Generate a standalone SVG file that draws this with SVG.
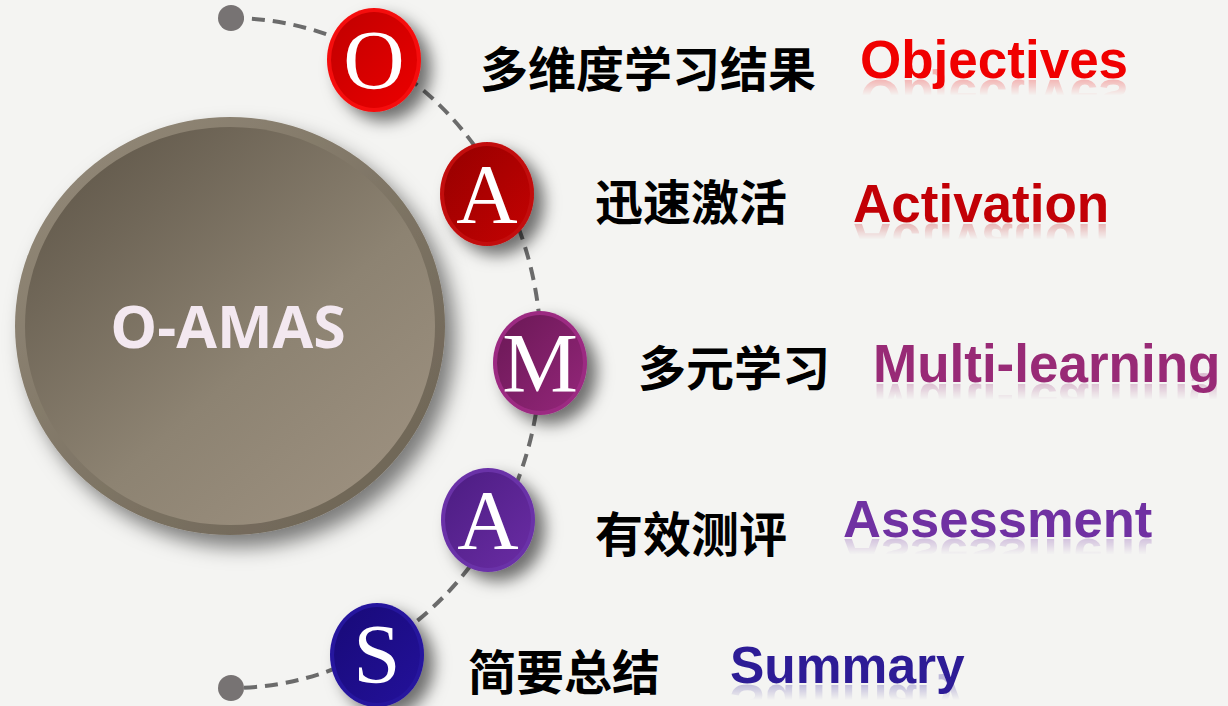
<svg xmlns="http://www.w3.org/2000/svg" xmlns:xlink="http://www.w3.org/1999/xlink" width="1228" height="706" viewBox="0 0 1228 706">
<defs>
<style>
.cn{font-family:"Noto Sans CJK SC","Noto Sans",sans-serif;font-weight:700;font-size:48px;fill:#000}
.en{font-family:"Liberation Sans",Arial,sans-serif;font-weight:700;font-size:53px}
.let{font-family:"Liberation Serif","Times New Roman",serif;font-size:85px;fill:#fff;text-anchor:middle}
.conn{fill:none;stroke:#6b6b6b;stroke-width:4;stroke-dasharray:13 8}
.dot{fill:#777373}
.refl{opacity:0.35}
</style>
<filter id="sh" x="-30%" y="-30%" width="170%" height="170%">
<feDropShadow dx="10" dy="9" stdDeviation="8" flood-color="#000" flood-opacity="0.55"/>
</filter>
<filter id="shBig" x="-20%" y="-20%" width="150%" height="150%">
<feDropShadow dx="10" dy="12" stdDeviation="10" flood-color="#000" flood-opacity="0.5"/>
</filter>
<linearGradient id="bigRim" x1="0" y1="0" x2="1" y2="1">
<stop offset="0" stop-color="#958b7a"/><stop offset="1" stop-color="#6a6152"/>
</linearGradient>
<linearGradient id="bigFace" x1="0.15" y1="0.1" x2="0.85" y2="0.9">
<stop offset="0" stop-color="#655c4e"/><stop offset="0.6" stop-color="#8d8372"/><stop offset="1" stop-color="#9b8f7e"/>
</linearGradient>
<linearGradient id="fO" x1="0" y1="0" x2="1" y2="1"><stop offset="0" stop-color="#c00000"/><stop offset="1" stop-color="#ec0000"/></linearGradient>
<linearGradient id="fA" x1="0" y1="0" x2="1" y2="1"><stop offset="0" stop-color="#960000"/><stop offset="1" stop-color="#c40202"/></linearGradient>
<linearGradient id="fM" x1="0" y1="0" x2="1" y2="1"><stop offset="0" stop-color="#6a1855"/><stop offset="1" stop-color="#94267a"/></linearGradient>
<linearGradient id="fA2" x1="0" y1="0" x2="1" y2="1"><stop offset="0" stop-color="#4c1d82"/><stop offset="1" stop-color="#6a2ca4"/></linearGradient>
<linearGradient id="fS" x1="0" y1="0" x2="1" y2="1"><stop offset="0" stop-color="#180a78"/><stop offset="1" stop-color="#23119a"/></linearGradient>
<linearGradient id="rfg" x1="0" y1="1" x2="0" y2="0">
<stop offset="0" stop-color="#fff" stop-opacity="0.8"/>
<stop offset="0.19" stop-color="#fff" stop-opacity="0.7"/>
<stop offset="0.45" stop-color="#fff" stop-opacity="0"/>
<stop offset="1" stop-color="#fff" stop-opacity="0"/>
</linearGradient>
<mask id="rm" maskContentUnits="objectBoundingBox">
<rect x="0" y="0" width="1" height="1" fill="url(#rfg)"/>
</mask>
</defs>
<rect width="1228" height="706" fill="#f4f4f2"/>

<g id="connectors">
<path class="conn" d="M231,18 A310,335 0 0 1 231,688"/>
<circle class="dot" cx="231" cy="18" r="13"/>
<circle class="dot" cx="231" cy="688" r="13"/>
</g>

<g id="node-center">
<ellipse cx="230" cy="326" rx="215" ry="209" fill="url(#bigRim)" filter="url(#shBig)"/>
<ellipse cx="230" cy="326" rx="205" ry="199" fill="url(#bigFace)"/>
<text x="228" y="348" style="font-family:'Open Sans','Liberation Sans',sans-serif;font-weight:700;font-size:59px;fill:#f3e8f0" text-anchor="middle">O-AMAS</text>
</g>

<g id="node-O">
<ellipse cx="374" cy="60" rx="47" ry="52" fill="#f50a0a" filter="url(#sh)"/>
<ellipse cx="374" cy="60" rx="43" ry="48" fill="url(#fO)"/>
<text class="let" x="374" y="89">O</text>
</g>
<g id="node-A">
<ellipse cx="487" cy="194" rx="47" ry="52" fill="#c20808" filter="url(#sh)"/>
<ellipse cx="487" cy="194" rx="43" ry="48" fill="url(#fA)"/>
<text class="let" x="487" y="223">A</text>
</g>
<g id="node-M">
<ellipse cx="540" cy="363" rx="47" ry="52" fill="#9c2a82" filter="url(#sh)"/>
<ellipse cx="540" cy="363" rx="43" ry="48" fill="url(#fM)"/>
<text class="let" x="540" y="392">M</text>
</g>
<g id="node-A2">
<ellipse cx="488" cy="520" rx="47" ry="52" fill="#6b32a8" filter="url(#sh)"/>
<ellipse cx="488" cy="520" rx="43" ry="48" fill="url(#fA2)"/>
<text class="let" x="488" y="549">A</text>
</g>
<g id="node-S">
<ellipse cx="377" cy="655" rx="47" ry="52" fill="#25149e" filter="url(#sh)"/>
<ellipse cx="377" cy="655" rx="43" ry="48" fill="url(#fS)"/>
<text class="let" x="377" y="683">S</text>
</g>

<g id="label-1">
<text class="cn" x="480" y="87">多维度学习结果</text>
<text id="e1" class="en" x="860" y="78" fill="#f00000">Objectives</text>
<use class="refl" xlink:href="#e1" href="#e1" transform="translate(0,158) scale(1,-1)" mask="url(#rm)"/>
</g>
<g id="label-2">
<text class="cn" x="595" y="220">迅速激活</text>
<text id="e2" class="en" x="853" y="222" fill="#c20006">Activation</text>
<use class="refl" xlink:href="#e2" href="#e2" transform="translate(0,446) scale(1,-1)" mask="url(#rm)"/>
</g>
<g id="label-3">
<text class="cn" x="638" y="386">多元学习</text>
<text id="e3" class="en" x="873" y="382" fill="#982a76">Multi-learning</text>
<use class="refl" xlink:href="#e3" href="#e3" transform="translate(0,766) scale(1,-1)" mask="url(#rm)"/>
</g>
<g id="label-4">
<text class="cn" x="595" y="552">有效测评</text>
<text id="e4" class="en" x="843" y="537" fill="#7031a2" style="font-size:52.5px">Assessment</text>
<use class="refl" xlink:href="#e4" href="#e4" transform="translate(0,1076) scale(1,-1)" mask="url(#rm)"/>
</g>
<g id="label-5">
<text class="cn" x="468" y="690">简要总结</text>
<text id="e5" class="en" x="730" y="683" fill="#2d1c96" style="font-size:51.5px">Summary</text>
<use class="refl" xlink:href="#e5" href="#e5" transform="translate(0,1368) scale(1,-1)" mask="url(#rm)"/>
</g>
</svg>
